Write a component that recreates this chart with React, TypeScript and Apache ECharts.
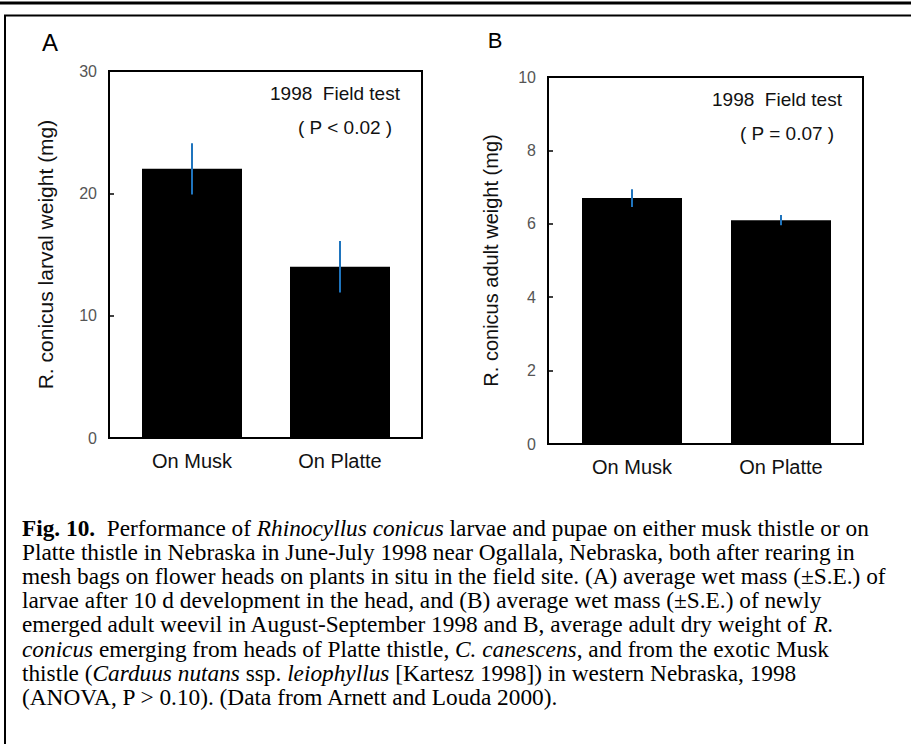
import React, { useEffect, useRef } from "react";
import * as echarts from "echarts";

const categories = ["On Musk", "On Platte"];
const larvalMeans = [22, 14];
const larvalSE = [2.1, 2.1];
const adultMeans = [6.7, 6.1];
const adultSE = [0.24, 0.14];
const larvalTicks = { min: 0, max: 30, interval: 10 };
const adultTicks = { min: 0, max: 10, interval: 2 };
const panelLetters = ["A", "B"];
const annotationTitle = "1998  Field test";
const pValues = ["( P < 0.02 )", "( P = 0.07 )"];
const yNames = ["R. conicus larval weight (mg)", "R. conicus adult weight (mg)"];
const captionLines = [
  "{b|Fig. 10.}{n|  Performance of }{i|Rhinocyllus conicus}{n| larvae and pupae on either musk thistle or on}",
  "{n|Platte thistle in Nebraska in June-July 1998 near Ogallala, Nebraska, both after rearing in}",
  "{n|mesh bags on flower heads on plants in situ in the field site. (A) average wet mass (±S.E.) of}",
  "{n|larvae after 10 d development in the head, and (B) average wet mass (±S.E.) of newly}",
  "{n|emerged adult weevil in August-September 1998 and B, average adult dry weight of }{i|R.}",
  "{i|conicus}{n| emerging from heads of Platte thistle, }{i|C. canescens}{n|, and from the exotic Musk}",
  "{n|thistle (}{i|Carduus nutans}{n| ssp. }{i|leiophyllus}{n| [Kartesz 1998]) in western Nebraska, 1998}",
  "{n|(ANOVA, P > 0.10). (Data from Arnett and Louda 2000).}",
];

const SANS = "'Liberation Sans', Arial, Helvetica, sans-serif";
const SERIF = "'Liberation Serif', 'Times New Roman', serif";
const ERR_COLOR = "#1f74bd";
const CAP = 23.3;

function errorSeries(gridIdx: number, means: number[], se: number[]) {
  return {
    type: "custom",
    xAxisIndex: gridIdx,
    yAxisIndex: gridIdx,
    data: means.map((m, i) => [i, m + se[i], m - se[i]]),
    renderItem: (params: any, api: any) => {
      const top = api.coord([api.value(0), api.value(1)]);
      const bot = api.coord([api.value(0), api.value(2)]);
      return {
        type: "line",
        shape: { x1: top[0], y1: top[1], x2: bot[0], y2: bot[1] },
        style: { stroke: ERR_COLOR, lineWidth: 2 },
      };
    },
    z: 5,
  };
}

export default function App() {
  const ref = useRef<HTMLDivElement>(null);
  useEffect(() => {
    if (!ref.current) return;
    const chart = echarts.init(ref.current, undefined, { renderer: "svg" });
    // frames (plot boxes) and inner grids (category bands)
    const frames = [
      { x: 109, y: 71, w: 313, h: 367 },
      { x: 548, y: 77, w: 315, h: 367 },
    ];
    const grids = [
      { left: 118, top: 71, width: 296, height: 367 },
      { left: 557.5, top: 77, width: 298, height: 367 },
    ];
    const ticks = [larvalTicks, adultTicks];
    const nameGaps = [53, 47];
    const nameSizes = [21, 20];
    const option: any = {
      animation: false,
      backgroundColor: "#ffffff",
      grid: grids.map((g) => ({ ...g, show: false, containLabel: false })),
      xAxis: grids.map((_, i) => ({
        type: "category",
        gridIndex: i,
        data: categories,
        axisLine: { show: false },
        axisTick: { show: false },
        axisLabel: { fontFamily: SANS, fontSize: 20, color: "#111", margin: 13 },
      })),
      yAxis: grids.map((g, i) => ({
        type: "value",
        gridIndex: i,
        offset: g.left - frames[i].x,
        min: ticks[i].min,
        max: ticks[i].max,
        interval: ticks[i].interval,
        name: yNames[i],
        nameLocation: "middle",
        nameGap: nameGaps[i],
        nameTextStyle: { fontFamily: SANS, fontSize: nameSizes[i], color: "#111" },
        axisLine: { show: false },
        axisTick: { show: true, inside: true, length: 5, lineStyle: { color: "#000", width: 1.5 } },
        axisLabel: { fontFamily: SANS, fontSize: 16, color: "#555", margin: 12 },
        splitLine: { show: false },
      })),
      series: [
        {
          type: "bar",
          xAxisIndex: 0,
          yAxisIndex: 0,
          data: larvalMeans,
          barWidth: 100,
          itemStyle: { color: "#000" },
        },
        {
          type: "bar",
          xAxisIndex: 1,
          yAxisIndex: 1,
          data: adultMeans,
          barWidth: 100,
          itemStyle: { color: "#000" },
        },
        errorSeries(0, larvalMeans, larvalSE),
        errorSeries(1, adultMeans, adultSE),
      ],
      graphic: [
        {
          type: "line",
          shape: { x1: 0, y1: 3, x2: 911, y2: 3 },
          style: { stroke: "#000", lineWidth: 3 },
        },
        {
          type: "rect",
          shape: { x: 5, y: 15.5, width: 930, height: 760 },
          style: { stroke: "#000", lineWidth: 2, fill: "none" },
        },
        ...frames.map((f) => ({
          type: "rect",
          z: 10,
          shape: { x: f.x, y: f.y, width: f.w, height: f.h },
          style: { stroke: "#000", lineWidth: 2, fill: "none" },
        })),
        {
          type: "text",
          x: 50,
          y: 42,
          style: { text: panelLetters[0], font: `24px ${SANS}`, fill: "#000", textAlign: "center", textVerticalAlign: "middle" },
        },
        {
          type: "text",
          x: 495,
          y: 40,
          style: { text: panelLetters[1], font: `22px ${SANS}`, fill: "#000", textAlign: "center", textVerticalAlign: "middle" },
        },
        {
          type: "text",
          x: 270,
          y: 93,
          style: { text: annotationTitle, font: `19px ${SANS}`, fill: "#111", textAlign: "left", textVerticalAlign: "middle" },
        },
        {
          type: "text",
          x: 298,
          y: 127,
          style: { text: pValues[0], font: `19px ${SANS}`, fill: "#111", textAlign: "left", textVerticalAlign: "middle" },
        },
        {
          type: "text",
          x: 712,
          y: 99,
          style: { text: annotationTitle, font: `19px ${SANS}`, fill: "#111", textAlign: "left", textVerticalAlign: "middle" },
        },
        {
          type: "text",
          x: 740,
          y: 133,
          style: { text: pValues[1], font: `19px ${SANS}`, fill: "#111", textAlign: "left", textVerticalAlign: "middle" },
        },
        ...captionLines.map((line, i) => ({
          type: "text",
          x: 22,
          y: 528 + i * 24.1,
          style: {
            text: line,
            fill: "#000",
            font: `${CAP}px ${SERIF}`,
            textAlign: "left",
            textVerticalAlign: "middle",
            rich: {
              n: { fontFamily: SERIF, fontSize: CAP, color: "#000" },
              i: { fontFamily: SERIF, fontSize: CAP, fontStyle: "italic", color: "#000" },
              b: { fontFamily: SERIF, fontSize: CAP, fontWeight: "bold", color: "#000" },
            },
          },
        })),
      ],
    };
    chart.setOption(option);
    return () => chart.dispose();
  }, []);
  return (
    <div
      ref={ref}
      style={{ position: "fixed", left: 0, top: 0, width: 911, height: 744, background: "#fff" }}
    />
  );
}
